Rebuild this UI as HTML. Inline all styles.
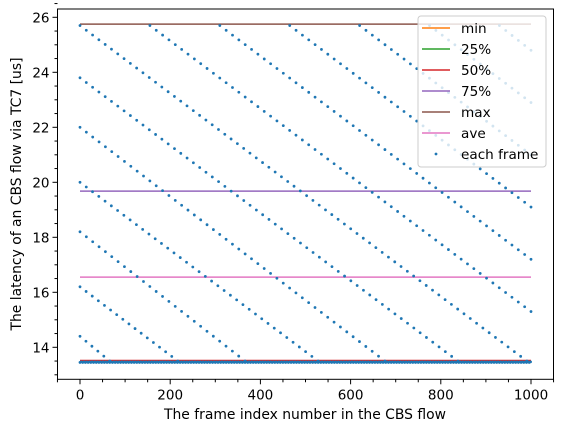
<!DOCTYPE html>
<html><head><meta charset="utf-8">
<style>
html,body{margin:0;padding:0;background:#fff;}
svg{display:block;font-family:"DejaVu Sans","Liberation Sans",sans-serif;}
</style></head>
<body>
<svg id="chart" width="563" height="432" viewBox="0 0 563 432" xmlns="http://www.w3.org/2000/svg">
<rect width="563" height="432" fill="#fff"/>
<g id="plot"></g>
<g id="axes"></g>
<text x="305" y="419" font-size="13.9" text-anchor="middle" fill="#000">The frame index number in the CBS flow</text>
<text transform="translate(21,194) rotate(-90)" font-size="13.9" text-anchor="middle" fill="#000">The latency of an CBS flow via TC7 [us]</text>
<g id="legend"></g>
</svg>
<script>
// ---- data ----
const statNames = ["min","25%","50%","75%","max","ave"];
const statValues = [13.45, 13.46, 13.52, 19.68, 25.75, 16.55];
const statColors = ["#ff7f0e","#2ca02c","#d62728","#9467bd","#8c564b","#e377c2"];
// diagonal stripes of "each frame" points: start frame, start value, end frame, end value
const stripeStartX = [0,0,0,0,0,0,0,155,310,465,620,775,930];
const stripeStartY = [25.7,23.8,22.0,20.0,18.2,16.2,14.4,25.7,25.7,25.7,25.7,25.7,25.7];
const stripeEndX   = [991,838,676,528,366,217,66,1000,1000,1000,1000,1000,1000];
const stripeEndY   = [13.5,13.5,13.5,13.5,13.5,13.5,13.5,15.3,17.2,19.1,21.0,22.9,24.8];
const baseValue = 13.45; // majority of frames
const xTicks = [0,200,400,600,800,1000];
const yTicks = [14,16,18,20,22,24,26];

// ---- scales ----
const L=57.5,R=553.5,T=9,B=379.3;
function sx(v){return 80+v*0.451;}
function sy(v){return 347.3-(v-14)*27.5;}
const NS="http://www.w3.org/2000/svg";
function mk(tag,attrs,parent){const e=document.createElementNS(NS,tag);for(const k in attrs)e.setAttribute(k,attrs[k]);parent.appendChild(e);return e;}
const plot=document.getElementById('plot'), axes=document.getElementById('axes'), legend=document.getElementById('legend');

statValues.forEach((v,i)=>{
  const l=mk('line',{x1:sx(0),x2:sx(1000),y1:sy(v),y2:sy(v),stroke:statColors[i],'stroke-width':1.5},plot);
  
  
});
for(let f=0;f<=1000;f+=3){
  const c=mk('circle',{cx:sx(f),cy:sy(baseValue+((f%2)?0.02:0)),r:1.4,fill:'#1f77b4'},plot);
  
  
}
stripeStartX.forEach((x0,i)=>{
  const x1=stripeEndX[i], y0=stripeStartY[i], y1=stripeEndY[i];
  const n=Math.max(1,Math.round((x1-x0)/14));
  for(let k=0;k<=n;k++){
    const t=k/n;
    const c=mk('circle',{cx:sx(x0+(x1-x0)*t),cy:sy(y0+(y1-y0)*t),r:1.4,fill:'#1f77b4'},plot);
    
    
  }
});

const fr=mk('rect',{x:L,y:T,width:R-L,height:B-T,fill:'none',stroke:'#000','stroke-width':1},axes);


xTicks.forEach(v=>{
  mk('line',{x1:sx(v),x2:sx(v),y1:B,y2:B+5,stroke:'#000'},axes);
  const t=mk('text',{x:sx(v),y:B+20,'font-size':13.5,'text-anchor':'middle'},axes);
  t.textContent=v;
  
  
});
for(let v=-50;v<=1050;v+=50){ if(v%200!==0) mk('line',{x1:sx(v),x2:sx(v),y1:B,y2:B+3,stroke:'#000'},axes); }
yTicks.forEach(v=>{
  mk('line',{x1:L-5,x2:L,y1:sy(v),y2:sy(v),stroke:'#000'},axes);
  const t=mk('text',{x:L-8,y:sy(v)+5,'font-size':13.5,'text-anchor':'end'},axes);
  t.textContent=v;
  
  
});
for(let v=13;v<=26.5;v+=0.5){ if(v%2!==0) mk('line',{x1:L-3,x2:L,y1:sy(v),y2:sy(v),stroke:'#000'},axes); }

const lb=mk('rect',{x:418,y:16,width:128,height:151,rx:3,fill:'#fff','fill-opacity':0.8,stroke:'#ccc'},legend);


const labels=statNames.concat(['each frame']);
labels.forEach((name,i)=>{
  const y=28+i*21;
  if(i<6){ mk('line',{x1:422,x2:450,y1:y,y2:y,stroke:statColors[i],'stroke-width':1.5},legend); }
  else { mk('circle',{cx:436,cy:y,r:1.4,fill:'#1f77b4'},legend); }
  const t=mk('text',{x:461,y:y+5,'font-size':13.6},legend);
  t.textContent=name;
  
  
});
</script>
</body></html>
